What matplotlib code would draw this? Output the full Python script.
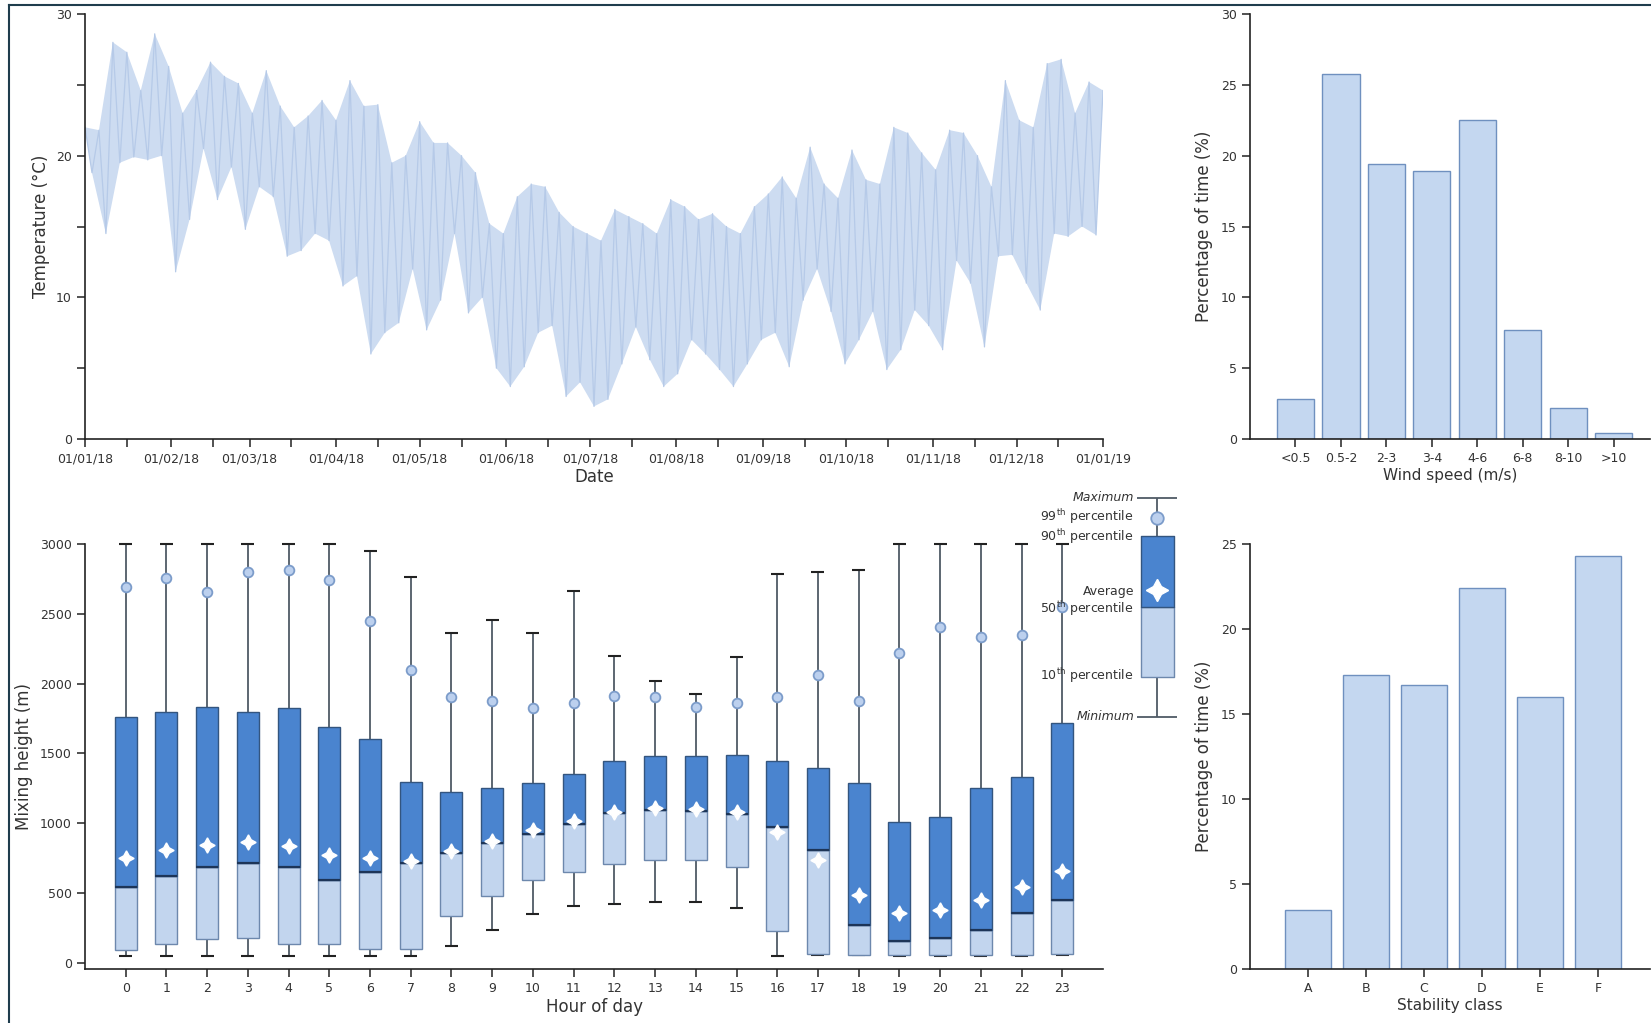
import numpy as np
import matplotlib
matplotlib.use("Agg")
import matplotlib.pyplot as plt
import matplotlib.dates as mdates
from matplotlib.lines import Line2D

plt.rcParams['font.family'] = ['DejaVu Sans']
plt.rcParams['mathtext.default'] = 'regular'

# ---- data ----
# temperature: alternating peaks / troughs every 2.5 days through 2018
temp_step_days = 2.5
temp_vals = [22, 18.8, 21.8, 14.5, 28.0, 19.5, 27.3, 19.9, 24.6, 19.7,
             28.6, 20, 26.3, 11.8, 23, 15.5, 24.6, 20.5, 26.6, 16.9,
             25.6, 19.2, 25.1, 14.8, 23, 17.8, 26, 17.1, 23.5, 12.9,
             22, 13.3, 22.8, 14.5, 23.9, 14, 22.5, 10.8, 25.3, 11.5,
             23.5, 6.0, 23.6, 7.5, 19.5, 8.2, 20, 12, 22.4, 7.7,
             20.9, 9.8, 20.9, 14.5, 20, 8.9, 18.8, 10, 15.2, 5,
             14.5, 3.7, 17.1, 5.1, 18, 7.5, 17.8, 8, 16, 3.0,
             15, 4, 14.5, 2.3, 14, 2.8, 16.2, 5.3, 15.7, 7.9,
             15.2, 5.6, 14.5, 3.7, 16.9, 4.6, 16.4, 7, 15.5, 6,
             15.9, 4.9, 15, 3.7, 14.5, 5.3, 16.4, 7, 17.3, 7.5,
             18.5, 5.1, 17, 9.8, 20.6, 12, 18, 9, 17, 5.3,
             20.4, 7, 18.3, 9, 18, 4.9, 22, 6.3, 21.6, 9.1,
             20.2, 8, 19, 6.3, 21.8, 12.6, 21.6, 11, 20, 6.5,
             17.8, 12.9, 25.3, 13, 22.5, 11, 22, 9.1, 26.5, 14.5,
             26.8, 14.3, 23, 15, 25.2, 14.4, 24.6]

wind_bins = ["<0.5", "0.5-2", "2-3", "3-4", "4-6", "6-8", "8-10", ">10"]
wind_pct = [2.8, 25.8, 19.4, 18.9, 22.5, 7.7, 2.2, 0.4]

stab_classes = ["A", "B", "C", "D", "E", "F"]
stab_pct = [3.5, 17.3, 16.7, 22.4, 16.0, 24.3]

hours = list(range(24))
mh_min = [50, 50, 50, 50, 50, 50, 50, 50, 120, 239, 354, 411, 421, 435, 435, 397, 53, 55, 55, 50, 50, 50, 50, 55]
mh_p10 = [91, 134, 170, 182, 134, 139, 103, 103, 337, 478, 593, 652, 712, 741, 741, 688, 227, 67, 55, 55, 55, 55, 55, 67]
mh_p50 = [545, 626, 686, 719, 686, 593, 652, 719, 789, 856, 927, 994, 1071, 1099, 1085, 1066, 975, 808, 270, 158, 182, 239, 361, 449]
mh_mean = [753, 808, 844, 863, 839, 772, 753, 729, 801, 875, 951, 1016, 1080, 1107, 1104, 1080, 939, 741, 490, 359, 382, 454, 545, 660]
mh_p90 = [1764, 1800, 1836, 1800, 1824, 1687, 1604, 1295, 1226, 1250, 1286, 1353, 1448, 1482, 1482, 1489, 1448, 1398, 1286, 1009, 1047, 1252, 1331, 1721]
mh_p99 = [2691, 2756, 2653, 2799, 2813, 2739, 2452, 2098, 1907, 1876, 1824, 1864, 1912, 1907, 1836, 1864, 1902, 2063, 1876, 2223, 2409, 2337, 2347, 2548]
mh_max = [3000, 3000, 3000, 3000, 3000, 3000, 2952, 2763, 2366, 2457, 2361, 2665, 2201, 2020, 1924, 2194, 2787, 2799, 2811, 3000, 3000, 3000, 3000, 3000]

# ---- styles ----
LINE_C = "#b6cae8"
FILL_C = "#cddcf1"
BAR_C = "#c4d7f0"
BAR_E = "#6f90bf"
DARK_C = "#4a84cf"
LIGHT_C = "#c2d5ee"
BOX_E = "#33557f"
WHISK = "#4f5a66"
SPINE = "#222222"
TXT = "#333333"
TICK_FS = 9
LAB_FS = 12

W, H = 1651, 1023
fig = plt.figure(figsize=(W / 100, H / 100), dpi=100)


def px_axes(l, t, r, b):
    return fig.add_axes([l / W, 1 - b / H, (r - l) / W, (b - t) / H])


def style(ax):
    for s in ("top", "right"):
        ax.spines[s].set_visible(False)
    for s in ("left", "bottom"):
        ax.spines[s].set_color(SPINE)
        ax.spines[s].set_linewidth(1.2)
    ax.tick_params(which="both", direction="out", length=6, width=1.1,
                   color=SPINE, labelsize=TICK_FS, labelcolor=TXT)
    ax.patch.set_alpha(0)


# ---- temperature time series ----
ax1 = px_axes(85, 14, 1103, 439)
start = mdates.date2num(np.datetime64("2018-01-01"))
t = start + np.arange(len(temp_vals)) * temp_step_days
tv = np.array(temp_vals)
# band: polygon through the peaks (even samples) and back through the troughs (odd samples)
t_hi, v_hi = t[0::2], tv[0::2]
t_lo, v_lo = t[1::2], tv[1::2]
ax1.fill(np.r_[t_hi, t_lo[::-1]], np.r_[v_hi, v_lo[::-1]], color=FILL_C, lw=0)
ax1.plot(t, tv, color=LINE_C, lw=0.9)
ax1.set_xlim(start, mdates.date2num(np.datetime64("2019-01-01")))
ax1.set_ylim(0, 30)
ax1.set_yticks([0, 10, 20, 30])
ax1.set_yticks([5, 15, 25], minor=True)
ax1.xaxis.set_major_locator(mdates.MonthLocator())
ax1.xaxis.set_minor_locator(mdates.MonthLocator(bymonthday=16))
ax1.xaxis.set_major_formatter(mdates.DateFormatter("%d/%m/%y"))
style(ax1)
ax1.set_ylabel("Temperature (\u00b0C)", fontsize=LAB_FS, color=TXT, labelpad=4)
ax1.set_xlabel("Date", fontsize=LAB_FS, color=TXT, labelpad=2)

# ---- wind speed ----
ax2 = px_axes(1250, 14, 1650, 439)
xw = np.arange(len(wind_bins))
ax2.bar(xw, wind_pct, width=0.82, color=BAR_C, edgecolor=BAR_E, linewidth=1.0)
ax2.set_xlim(-1, 7.8)
ax2.set_ylim(0, 30)
ax2.set_yticks(range(0, 31, 5))
ax2.set_xticks(xw)
ax2.set_xticklabels(wind_bins)
style(ax2)
ax2.set_ylabel("Percentage of time (%)", fontsize=LAB_FS, color=TXT, labelpad=6)
ax2.set_xlabel("Wind speed (m/s)", fontsize=LAB_FS - 1, color=TXT, labelpad=2)

# ---- mixing height box plot ----
ax3 = px_axes(85, 544, 1103, 969)
hx = np.array(hours)
bw = 0.54
p10 = np.array(mh_p10)
p50 = np.array(mh_p50)
p90 = np.array(mh_p90)
ax3.vlines(hx, mh_min, p10, color=WHISK, lw=1.3, zorder=1)
ax3.vlines(hx, p90, mh_max, color=WHISK, lw=1.3, zorder=1)
ax3.hlines(mh_min, hx - 0.16, hx + 0.16, color=SPINE, lw=1.5, zorder=1)
ax3.hlines(mh_max, hx - 0.16, hx + 0.16, color=SPINE, lw=1.5, zorder=1, clip_on=False)
ax3.bar(hx, p50 - p10, bottom=p10, width=bw, color=LIGHT_C, edgecolor="#6d88ad", linewidth=1.0, zorder=2)
ax3.bar(hx, p90 - p50, bottom=p50, width=bw, color=DARK_C, edgecolor=BOX_E, linewidth=1.0, zorder=2)
ax3.hlines(p50, hx - bw / 2, hx + bw / 2, color="#1d3558", lw=1.6, zorder=3)
ax3.plot(hx, mh_p99, "o", ms=7, mfc="#bcd0ee", mec="#7c9cca", mew=1.3, zorder=4, clip_on=False)
ax3.plot(hx, mh_mean, marker=(4, 1, 0), ls="none", ms=11, color="white", zorder=5)
ax3.set_xlim(-1, 24)
ax3.set_ylim(-43, 3000)
ax3.set_yticks(range(0, 3001, 500))
ax3.set_xticks(hx)
style(ax3)
ax3.set_ylabel("Mixing height (m)", fontsize=LAB_FS, color=TXT, labelpad=5)
ax3.set_xlabel("Hour of day", fontsize=LAB_FS, color=TXT, labelpad=2)

# ---- stability class ----
ax4 = px_axes(1250, 544, 1650, 969)
xs = np.arange(len(stab_classes))
ax4.bar(xs, stab_pct, width=0.8, color=BAR_C, edgecolor=BAR_E, linewidth=1.0)
ax4.set_xlim(-1, 5.9)
ax4.set_ylim(0, 25)
ax4.set_yticks(range(0, 26, 5))
ax4.set_xticks(xs)
ax4.set_xticklabels(stab_classes)
style(ax4)
ax4.set_ylabel("Percentage of time (%)", fontsize=LAB_FS, color=TXT, labelpad=6)
ax4.set_xlabel("Stability class", fontsize=LAB_FS - 1, color=TXT, labelpad=2)

# ---- box plot key (pixel coordinates of the key area) ----
lg = px_axes(1000, 480, 1200, 730)
lg.set_xlim(1000, 1200)
lg.set_ylim(730, 480)
lg.axis("off")
kx = 1157
lg.vlines(kx, 498, 717, color=WHISK, lw=1.3)
lg.hlines([498, 717], 1137, 1177, color=WHISK, lw=1.3)
lg.fill_between([1141, 1174], 607, 677, color=LIGHT_C, ec="#6d88ad", lw=1.0, zorder=2)
lg.fill_between([1141, 1174], 536, 607, color=DARK_C, ec=BOX_E, lw=1.0, zorder=2)
lg.plot(kx, 518, "o", ms=9, mfc="#bcd0ee", mec="#7c9cca", mew=1.3, zorder=3)
lg.plot(kx, 590, marker=(4, 1, 0), ms=16, color="white", zorder=4)
kfs = 9
lg.text(1134, 497, "Maximum", ha="right", va="center", fontsize=kfs, style="italic", color=TXT)
lg.text(1134, 517, "99$^{th}$ percentile", ha="right", va="center", fontsize=kfs, color=TXT)
lg.text(1134, 537, "90$^{th}$ percentile", ha="right", va="center", fontsize=kfs, color=TXT)
lg.text(1134, 591, "Average", ha="right", va="center", fontsize=kfs, color=TXT)
lg.text(1134, 609, "50$^{th}$ percentile", ha="right", va="center", fontsize=kfs, color=TXT)
lg.text(1134, 676, "10$^{th}$ percentile", ha="right", va="center", fontsize=kfs, color=TXT)
lg.text(1134, 716, "Minimum", ha="right", va="center", fontsize=kfs, style="italic", color=TXT)

# ---- outer frame ----
fig.add_artist(Line2D([9 / W, 1], [1 - 5 / H, 1 - 5 / H], color="#1f3d4d", lw=1.5))
fig.add_artist(Line2D([9 / W, 9 / W], [0, 1 - 5 / H], color="#1f3d4d", lw=1.5))

fig.savefig("out.png", dpi=100)
